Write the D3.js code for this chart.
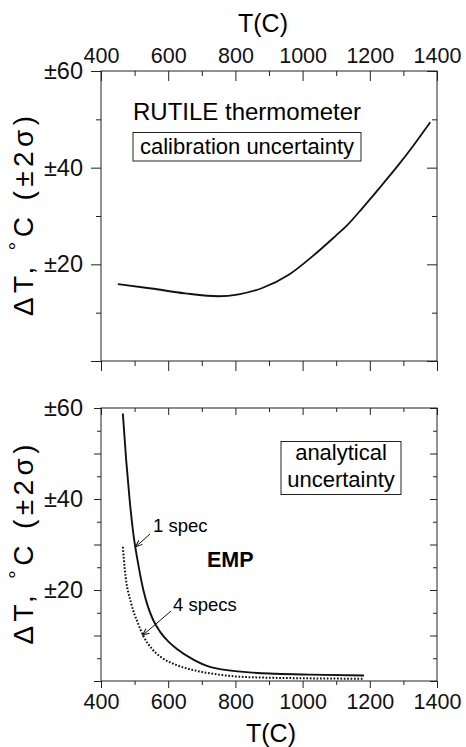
<!DOCTYPE html>
<html>
<head>
<meta charset="utf-8">
<script src="https://cdn.jsdelivr.net/npm/d3@7"></script>
<style>
  body { margin: 0; background: #fff; }
  svg { display: block; font-family: "Liberation Sans", Arial, sans-serif; }
  .axis path { stroke: #222; }
  .axis line { stroke: #222; }
  .axis text { font-size: 21.5px; fill: #111; font-family: "Liberation Sans", Arial, sans-serif; }
  .axis.yaxis text { font-size: 23.5px; }
</style>
</head>
<body>
<div id="chart"></div>
<script>
// Data
const tempTicks = [400, 600, 800, 1000, 1200, 1400];
const tempMinor = [500, 700, 900, 1100, 1300];
const errLabels = [20, 40, 60];

// calibration uncertainty (top panel)
const calT   = [450, 550, 650, 750, 810, 880, 960, 1030, 1100, 1130, 1180, 1230, 1280, 1330, 1380];
const calErr = [15.9, 15.0, 14.0, 13.4, 13.8, 15.1, 17.9, 21.7, 26.0, 27.9, 31.8, 35.9, 40.1, 44.6, 49.4];

// analytical uncertainty (bottom panel), 1 spec and 4 specs
const spec1T   = [465, 475, 485, 496, 510, 526, 540, 556, 576, 600, 625, 675, 724, 824, 920, 1022, 1183];
const spec1Err = [58.8, 48.5, 40.0, 32.5, 26.0, 20.0, 16.3, 13.3, 10.8, 8.7, 7.1, 4.7, 3.1, 2.0, 1.6, 1.4, 1.2];
const spec4T   = [465, 471, 490, 510, 526, 550, 576, 625, 675, 750, 824, 1000, 1183];
const spec4Err = [29.5, 24.4, 17.0, 12.7, 9.9, 7.2, 5.4, 3.5, 2.4, 1.4, 0.9, 0.6, 0.5];

const W = 466, H = 747;
const left = 101, right = 437;

const svg = d3.select("#chart")
    .append("svg")
    .attr("width", W)
    .attr("height", H);

const x = d3.scaleLinear().domain([400, 1400]).range([left, right]);
const yTop = d3.scaleLinear().domain([0, 60]).range([361, 71]);
const yBot = d3.scaleLinear().domain([0, 60]).range([681, 408]);

const fmtErr = d => errLabels.includes(d) ? "\u00b1" + d : "";

// draws the box with ticks; outer ticks on left/bottom, inner on top/right
function frame(y, yMajor, yMinor, majLen, minLen, labelTop, labelBottom) {
    const y0 = y.range()[0], y1 = y.range()[1];

    // minor ticks first
    svg.append("g").attr("class", "axis")
        .attr("transform", `translate(${left},0)`)
        .call(d3.axisLeft(y).tickValues(yMinor).tickSize(minLen).tickFormat(""));
    svg.append("g").attr("class", "axis")
        .attr("transform", `translate(${right},0)`)
        .call(d3.axisLeft(y).tickValues(yMinor).tickSize(minLen).tickFormat(""));
    svg.append("g").attr("class", "axis")
        .attr("transform", `translate(0,${y0})`)
        .call(d3.axisBottom(x).tickValues(tempMinor).tickSize(minLen).tickFormat(""));
    svg.append("g").attr("class", "axis")
        .attr("transform", `translate(0,${y1})`)
        .call(d3.axisBottom(x).tickValues(tempMinor).tickSize(minLen).tickFormat(""));

    // major ticks
    svg.append("g").attr("class", "axis yaxis")
        .attr("transform", `translate(${left},0)`)
        .call(d3.axisLeft(y).tickValues(yMajor).tickSize(majLen).tickPadding(18 - majLen).tickFormat(fmtErr));
    svg.append("g").attr("class", "axis")
        .attr("transform", `translate(${right},0)`)
        .call(d3.axisLeft(y).tickValues(yMajor).tickSize(majLen).tickFormat(""));
    svg.append("g").attr("class", "axis")
        .attr("transform", `translate(0,${y0})`)
        .call(d3.axisBottom(x).tickValues(tempTicks).tickSize(majLen).tickPadding(6)
            .tickFormat(labelBottom ? d3.format("d") : ""));
    svg.append("g").attr("class", "axis")
        .attr("transform", `translate(0,${y1})`)
        .call(d3.axisBottom(x).tickValues(tempTicks).tickSize(majLen).tickFormat(""));
    if (labelTop) {
        svg.append("g").attr("class", "axis")
            .attr("transform", `translate(0,${y1})`)
            .call(d3.axisTop(x).tickValues(tempTicks).tickSize(0).tickPadding(8).tickFormat(d3.format("d")));
    }

    svg.selectAll(".axis .domain").remove();
    svg.append("rect")
        .attr("x", left).attr("y", y1)
        .attr("width", right - left).attr("height", y0 - y1)
        .attr("fill", "none").attr("stroke", "#222").attr("stroke-width", 1);

    // y title
    const t = svg.append("text")
        .attr("transform", `translate(33,${(y0 + y1) / 2}) rotate(-90)`)
        .attr("text-anchor", "middle")
        .attr("textLength", 200)
        .attr("lengthAdjust", "spacing")
        .style("font-size", "28px");
    t.append("tspan").text("\u0394T, ");
    t.append("tspan").attr("dy", -9).style("font-size", "21px").text("\u00b0");
    t.append("tspan").attr("dy", 9).text("C (\u00b12\u03c3)");
}

frame(yTop, [0, 20, 40, 60], [10, 30, 50], 10, 5, true, false);
frame(yBot, [0, 10, 20, 30, 40, 50, 60], [5, 15, 25, 35, 45, 55], 7, 4, false, true);

// x titles
svg.append("text")
    .attr("x", 263).attr("y", 32)
    .attr("text-anchor", "middle")
    .style("font-size", "25px")
    .text("T(C)");
svg.append("text")
    .attr("x", 271).attr("y", 742)
    .attr("text-anchor", "middle")
    .style("font-size", "25px")
    .text("T(C)");

// curves
const line = d3.line().curve(d3.curveMonotoneX).x(d => x(d[0]));

svg.append("path")
    .datum(d3.zip(calT, calErr))
    .attr("fill", "none").attr("stroke", "#111").attr("stroke-width", 1.8)
    .attr("d", line.y(d => yTop(d[1])));

svg.append("path")
    .datum(d3.zip(spec1T, spec1Err))
    .attr("fill", "none").attr("stroke", "#111").attr("stroke-width", 1.9)
    .attr("d", line.y(d => yBot(d[1])));

svg.append("path")
    .datum(d3.zip(spec4T, spec4Err))
    .attr("fill", "none").attr("stroke", "#111").attr("stroke-width", 2)
    .attr("stroke-dasharray", "1.7,1.7")
    .attr("d", line.y(d => yBot(d[1])));

// labels in the top panel
svg.append("text")
    .attr("x", 247).attr("y", 120)
    .attr("text-anchor", "middle")
    .style("font-size", "24px")
    .text("RUTILE thermometer");
svg.append("rect")
    .attr("x", 133).attr("y", 132.5).attr("width", 228).attr("height", 28.5)
    .attr("fill", "none").attr("stroke", "#222").attr("stroke-width", 1);
svg.append("text")
    .attr("x", 247).attr("y", 153.5)
    .attr("text-anchor", "middle")
    .style("font-size", "22px")
    .text("calibration uncertainty");

// labels in the bottom panel
svg.append("rect")
    .attr("x", 281).attr("y", 441.5).attr("width", 120).attr("height", 53)
    .attr("fill", "none").attr("stroke", "#222").attr("stroke-width", 1);
svg.append("text")
    .attr("x", 341).attr("y", 460)
    .attr("text-anchor", "middle")
    .style("font-size", "22px")
    .text("analytical");
svg.append("text")
    .attr("x", 341).attr("y", 487)
    .attr("text-anchor", "middle")
    .style("font-size", "22px")
    .text("uncertainty");

svg.append("text")
    .attr("x", 207).attr("y", 567)
    .style("font-size", "21.5px")
    .style("font-weight", "bold")
    .text("EMP");

svg.append("text")
    .attr("x", 153).attr("y", 532)
    .style("font-size", "18.5px")
    .text("1 spec");
svg.append("text")
    .attr("x", 173).attr("y", 610.5)
    .style("font-size", "18.5px")
    .text("4 specs");

svg.append("defs").append("marker")
    .attr("id", "arrow")
    .attr("viewBox", "0 0 10 10")
    .attr("refX", 9).attr("refY", 5)
    .attr("markerWidth", 7).attr("markerHeight", 7)
    .attr("orient", "auto")
    .append("path")
    .attr("d", "M0,1 L10,5 L0,9")
    .attr("fill", "none").attr("stroke", "#111").attr("stroke-width", 1.4);

svg.append("line")
    .attr("x1", 150).attr("y1", 534).attr("x2", 136).attr("y2", 546.5)
    .attr("stroke", "#111").attr("stroke-width", 1)
    .attr("marker-end", "url(#arrow)");
svg.append("line")
    .attr("x1", 171).attr("y1", 611).attr("x2", 143).attr("y2", 635)
    .attr("stroke", "#111").attr("stroke-width", 1)
    .attr("marker-end", "url(#arrow)");
</script>
</body>
</html>
